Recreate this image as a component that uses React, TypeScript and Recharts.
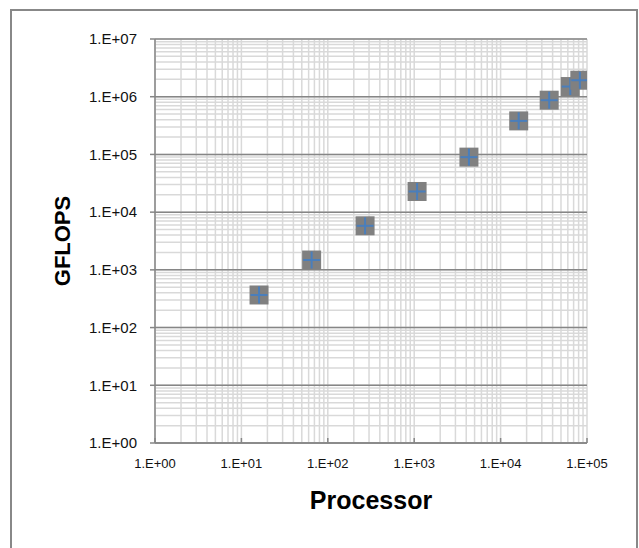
import React from "react";
import {
  ScatterChart,
  Scatter,
  XAxis,
  YAxis,
  CartesianGrid,
  Label,
} from "recharts";

const processors = [16, 65, 270, 1080, 4300, 16200, 36500, 64000, 82600];
const gflops = [367, 1480, 5800, 22800, 89800, 381000, 870000, 1500000, 1930000];

const xTicks = [1, 10, 100, 1000, 10000, 100000];
const yTicks = [1, 10, 100, 1000, 10000, 100000, 1000000, 10000000];
const steps = [1, 2, 3, 4, 5, 6, 7, 8, 9];

const data = processors.map((p, i) => ({ x: p, y: gflops[i] }));

// log gridlines: every 1..9 inside each decade
const minorLines = (ticks: number[]) =>
  ticks.slice(0, -1).flatMap((d) => steps.map((s) => s * d)).concat(ticks[ticks.length - 1]);

const fmtExp = (v: number) => {
  const e = Math.round(Math.log10(v));
  return `1.E+${String(e).padStart(2, "0")}`;
};

const FONT = "'Liberation Sans', Arial, sans-serif";
const AXIS_GRAY = "#868686";

function XTick({ x, y, payload }: any) {
  return (
    <g>
      <line x1={x} x2={x} y1={y} y2={y - 5} stroke={AXIS_GRAY} strokeWidth={1.5} />
      <text x={x} y={y + 25} textAnchor="middle" fontSize={13} fontFamily={FONT} fill="#111">
        {fmtExp(payload.value)}
      </text>
    </g>
  );
}

function Marker({ cx, cy }: any) {
  if (cx == null || cy == null) return null;
  const h = 9.5;
  return (
    <g>
      <rect x={cx - h} y={cy - h} width={h * 2} height={h * 2} fill="#808080" />
      <line x1={cx - h + 1} x2={cx + h - 1} y1={cy} y2={cy} stroke="#4a7ebb" strokeWidth={2} />
      <line x1={cx} x2={cx} y1={cy - h + 1} y2={cy + h - 1} stroke="#4a7ebb" strokeWidth={2} />
    </g>
  );
}

export default function App() {
  return (
    <div
      style={{
        position: "fixed",
        left: 0,
        top: 0,
        width: 639,
        height: 548,
        overflow: "hidden",
        background: "#fff",
      }}
    >
      <div
        style={{
          position: "absolute",
          left: 10,
          top: 9,
          width: 628,
          height: 600,
          boxSizing: "border-box",
          border: "2px solid #888",
        }}
      />
      <div style={{ position: "absolute", left: 0, top: 0 }}>
        <ScatterChart
          width={639}
          height={548}
          margin={{ top: 39, right: 52, bottom: 0, left: 0 }}
        >
          <CartesianGrid
            stroke="#d9d9d9"
            strokeWidth={1.5}
            horizontalValues={minorLines(yTicks)}
            verticalValues={minorLines(xTicks)}
          />
          <CartesianGrid
            stroke={AXIS_GRAY}
            strokeWidth={1.5}
            vertical={false}
            horizontalValues={yTicks}
          />
          <XAxis
            type="number"
            dataKey="x"
            scale="log"
            domain={[1, 100000]}
            ticks={xTicks}
            allowDataOverflow
            height={105}
            axisLine={{ stroke: AXIS_GRAY, strokeWidth: 1.5 }}
            tickLine={false}
            tickSize={0}
            tickMargin={0}
            tick={<XTick />}
            interval={0}
          >
            <Label
              content={({ viewBox }: any) => (
                <text
                  x={viewBox.x + viewBox.width / 2}
                  y={viewBox.y + 66}
                  textAnchor="middle"
                  fontSize={25}
                  fontWeight="bold"
                  fontFamily={FONT}
                  fill="#000"
                >
                  Processor
                </text>
              )}
            />
          </XAxis>
          <YAxis
            type="number"
            dataKey="y"
            scale="log"
            domain={[1, 10000000]}
            ticks={yTicks}
            allowDataOverflow
            width={155}
            axisLine={{ stroke: AXIS_GRAY, strokeWidth: 1.5 }}
            tickLine={{ stroke: AXIS_GRAY, strokeWidth: 1.5 }}
            tickSize={5}
            tickMargin={13}
            interval={0}
            tickFormatter={fmtExp}
            tick={{ fontSize: 15, fontFamily: FONT, fill: "#111" }}
          >
            <Label
              content={({ viewBox }: any) => {
                const cx = viewBox.x + 70;
                const cy = viewBox.y + viewBox.height / 2;
                return (
                  <text
                    x={cx}
                    y={cy}
                    transform={`rotate(-90 ${cx} ${cy})`}
                    textAnchor="middle"
                    fontSize={22}
                    fontWeight="bold"
                    fontFamily={FONT}
                    fill="#000"
                  >
                    GFLOPS
                  </text>
                );
              }}
            />
          </YAxis>
          <Scatter data={data} shape={<Marker />} isAnimationActive={false} />
        </ScatterChart>
      </div>
    </div>
  );
}
